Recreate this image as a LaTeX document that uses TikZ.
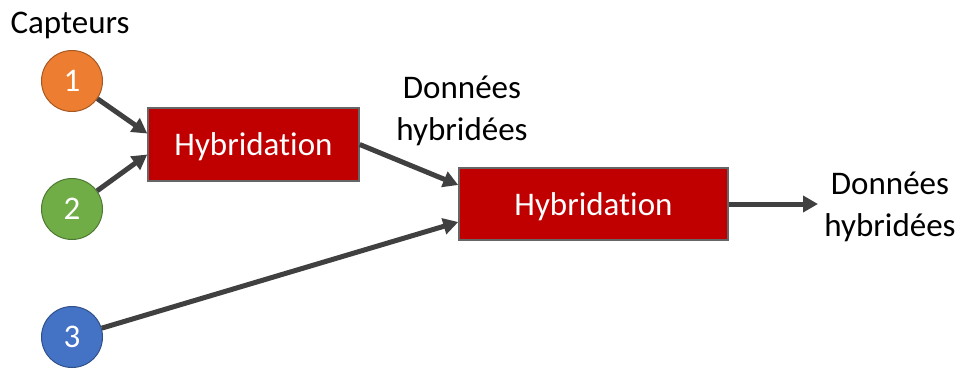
\documentclass[tikz,border=0pt]{standalone}
\usepackage{fontspec}
\setmainfont[Ligatures=NoCommon]{Carlito}
\usetikzlibrary{arrows.meta}
\definecolor{orangeC}{HTML}{ED7D31}
\definecolor{greenC}{HTML}{70AD47}
\definecolor{blueC}{HTML}{4472C4}
\definecolor{redBox}{HTML}{C00000}
\definecolor{arrowC}{HTML}{404040}
\tikzset{
  sensor/.style={circle, minimum size=61pt, inner sep=0pt, line width=1pt, text=white, font=\fontsize{33}{38}\selectfont},
  hyb/.style={rectangle, fill=redBox, draw=gray!80!black, line width=1.5pt, text=white, inner sep=0pt, text depth=0pt, font=\fontsize{33}{40}\selectfont},
  lbl/.style={align=center, font=\fontsize{33}{42}\selectfont, inner sep=0pt},
  conn/.style={draw=arrowC, line width=5pt, -{Triangle[length=15pt,width=16pt]}}
}
\begin{document}
\begin{tikzpicture}[x=1pt,y=-1pt]
\useasboundingbox (0,0) rectangle (961,368);
\node[lbl] (capt) at (70,25) {Capteurs};
\node[sensor, fill=orangeC, draw=orangeC!70!black] (c1) at (72,81) {1};
\node[sensor, fill=greenC, draw=greenC!70!black] (c2) at (72,209) {2};
\node[sensor, fill=blueC, draw=blueC!70!black] (c3) at (72,337) {3};
\node[hyb, minimum width=211pt, minimum height=73pt] (b1) at (253.5,144.5) {Hybridation};
\node[hyb, minimum width=269pt, minimum height=72pt] (b2) at (593.5,204) {Hybridation};
\node[lbl] (d1) at (462,111) {Données\\hybridées};
\node[lbl] (d2) at (890,207) {Données\\hybridées};
\coordinate (out) at (818,204);
\draw[conn] (c1) -- ([yshift=11pt]b1.west);
\draw[conn] (c2) -- ([yshift=-10pt]b1.west);
\draw[conn] (b1.east) -- ([yshift=19pt]b2.west);
\draw[conn] (c3) -- ([yshift=-18pt]b2.west);
\draw[conn] (b2.east) -- (out);
\end{tikzpicture}
\end{document}
